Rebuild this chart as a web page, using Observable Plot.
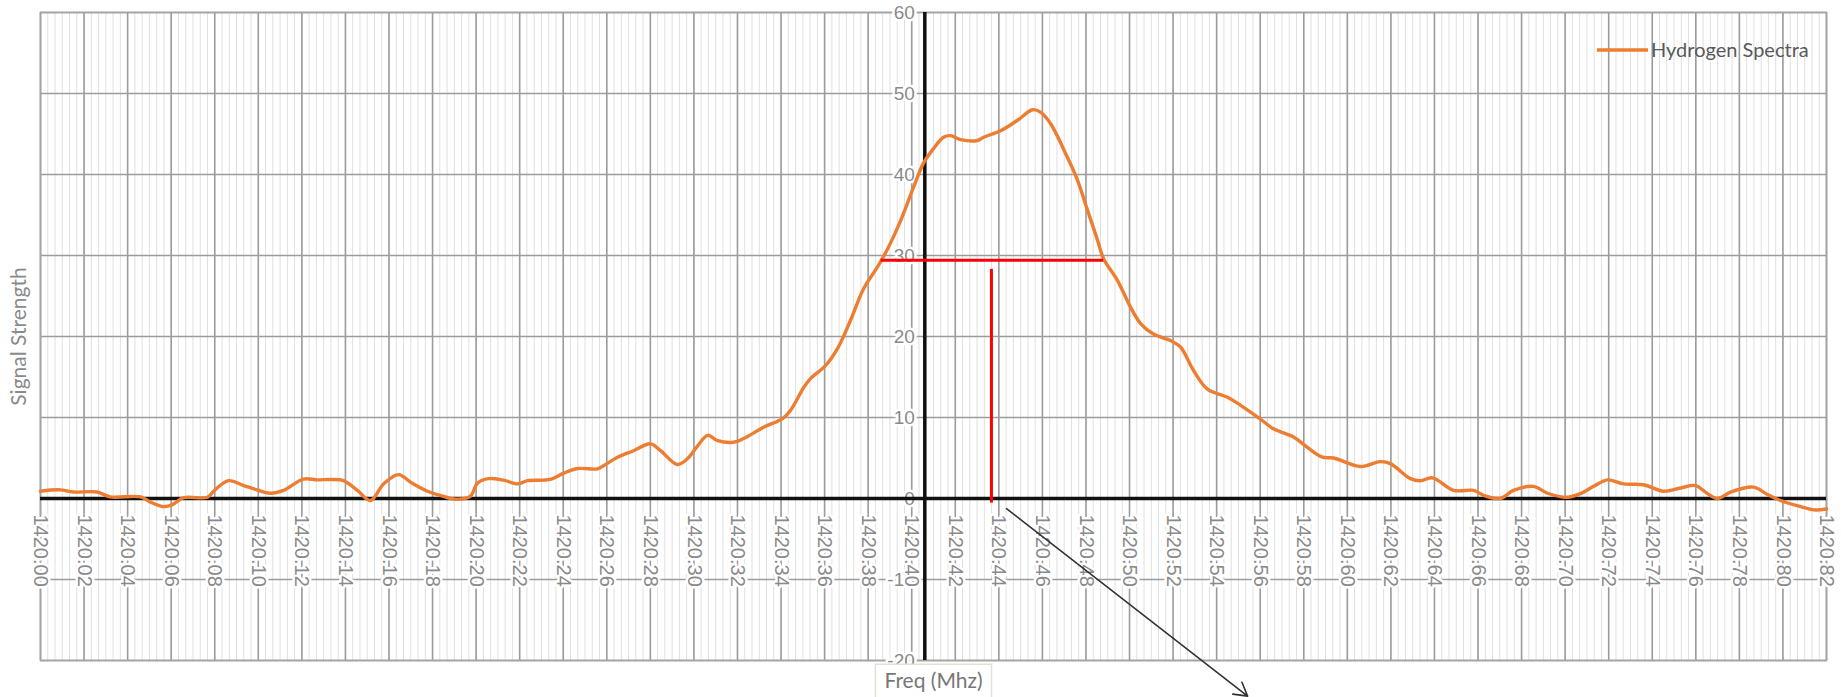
<!DOCTYPE html>
<html><head><meta charset="utf-8">
<script src="https://cdn.jsdelivr.net/npm/d3@7"></script>
<script src="https://cdn.jsdelivr.net/npm/@observablehq/plot@0.6"></script>
<style>html,body{margin:0;padding:0;background:#fff;overflow:hidden}</style>
</head><body><div id="chart"></div>
<script>
// ---- data ----
const freq = [
1420.000,1420.009,1420.015,1420.026,1420.032,1420.046,1420.0505,1420.0566,1420.0606,1420.0657,
1420.0766,1420.0795,1420.0863,1420.0933,1420.0996,1420.1056,1420.1116,1420.1207,1420.1272,1420.1332,
1420.1391,1420.1455,1420.1515,1420.1575,1420.1644,1420.170,1420.1777,1420.185,1420.1915,1420.1974,
1420.2006,1420.2057,1420.2126,1420.219,1420.2236,1420.234,1420.240,1420.2466,1420.2557,1420.2585,
1420.2649,1420.2723,1420.2801,1420.2847,1420.2924,1420.297,1420.3017,1420.3063,1420.3109,1420.3182,
1420.3228,1420.332,1420.3407,1420.3444,1420.3504,1420.3535,1420.3604,1420.3659,1420.3719,1420.3779,
1420.3843,1420.3889,1420.3949,1420.4008,1420.4054,1420.410,1420.4146,1420.4178,1420.4224,1420.4302,
1420.433,1420.4408,1420.4486,1420.4555,1420.4591,1420.4637,1420.4715,1420.4761,1420.4807,1420.4853,
1420.4881,1420.4945,1420.5005,1420.5051,1420.511,1420.5188,1420.5234,1420.5294,1420.5358,1420.545,
1420.551,1420.5601,1420.5661,1420.5753,1420.5817,1420.5886,1420.5937,1420.606,1420.6152,1420.6198,
1420.629,1420.6336,1420.6391,1420.6488,1420.658,1420.6625,1420.6703,1420.6763,1420.6855,1420.6919,
1420.701,1420.707,1420.7131,1420.7195,1420.7268,1420.736,1420.7452,1420.753,1420.7599,1420.7654,
1420.770,1420.776,1420.7865,1420.7929,1420.7989,1420.8081,1420.8141,1420.820
];
const strength = [
0.9,1.07,0.8,0.8,0.2,0.2,-0.45,-1.0,-0.75,0.1,
0.15,0.9,2.2,1.6,1.05,0.65,1.0,2.4,2.3,2.35,
2.2,1.0,-0.25,1.8,2.95,2.0,0.9,0.25,-0.1,0.3,
1.9,2.45,2.26,1.8,2.2,2.35,3.1,3.7,3.65,4.05,
5.1,5.9,6.75,5.9,4.2,4.9,6.5,7.8,7.15,6.95,
7.4,8.8,9.85,10.9,13.7,14.8,16.4,18.5,22.0,25.9,
28.6,30.8,34.3,38.4,41.4,43.2,44.6,44.8,44.3,44.2,
44.6,45.4,46.7,48.0,47.7,46.3,42.1,39.3,35.6,31.9,
29.6,26.9,23.6,21.6,20.3,19.5,18.7,15.8,13.5,12.5,
11.5,9.8,8.6,7.6,6.3,5.1,5.0,3.95,4.55,4.3,
2.45,2.2,2.55,1.0,1.0,0.4,0.0,1.0,1.5,0.65,
0.15,0.6,1.5,2.3,1.8,1.7,0.9,1.3,1.6,0.6,
0.0,0.8,1.4,0.5,-0.25,-1.0,-1.4,-1.3
];
const xTickValues = [
1420.00,1420.02,1420.04,1420.06,1420.08,1420.10,1420.12,1420.14,1420.16,1420.18,
1420.20,1420.22,1420.24,1420.26,1420.28,1420.30,1420.32,1420.34,1420.36,1420.38,
1420.40,1420.42,1420.44,1420.46,1420.48,1420.50,1420.52,1420.54,1420.56,1420.58,
1420.60,1420.62,1420.64,1420.66,1420.68,1420.70,1420.72,1420.74,1420.76,1420.78,
1420.80,1420.82
];
const yTickValues = [-20,-10,0,10,20,30,40,50,60];
const seriesName = "Hydrogen Spectra";
const xTitle = "Freq (Mhz)";
const yTitle = "Signal Strength";
const yAxisCrossing = [1420.406];
const redHorizontal = [{x1: 1420.3857, x2: 1420.4879, y: 29.4}];
const redVertical = [{x: 1420.4366, y1: 28.35, y2: -0.5}];
const pointerArrow = [{x1: 1420.4435, y1: -1.25, x2: 1420.5542, y2: -24.4}];

// ---- build ----
const data = freq.map((f, i) => ({f, s: strength[i]}));
const minorTicks = d3.range(0, 41 * 6 + 1).map(i => 1420 + i * 0.02 / 6);
const fmt = d3.format(".2f");
const orange = "#ED7D31";

const chart = Plot.plot({
  width: 1841, height: 697,
  marginLeft: 40, marginRight: 15, marginTop: 12, marginBottom: 37,
  x: {domain: [1420, 1420.82], axis: null},
  y: {domain: [-20, 60], axis: null},
  style: {background: "white", fontFamily: "'Liberation Sans', Arial, sans-serif"},
  marks: [
    Plot.ruleX(minorTicks, {stroke: "#e0e0e0", strokeWidth: 1}),
    Plot.ruleX(xTickValues, {stroke: "#9c9c9c", strokeWidth: 1.6}),
    Plot.ruleY(yTickValues, {stroke: "#9c9c9c", strokeWidth: 1.6}),
    Plot.frame({stroke: "#a3a3a3", strokeWidth: 1.6}),
    Plot.text(yTickValues, {x: () => yAxisCrossing[0], y: d => d, text: d => String(d), textAnchor: "end", dx: -10,
      fontSize: 19, fill: "#8a8a8a", stroke: "white", strokeWidth: 5, paintOrder: "stroke"}),
    Plot.text(xTickValues, {x: d => d, y: () => 0, text: d => fmt(d), rotate: 90, textAnchor: "start", lineAnchor: "middle", dy: 16,
      fontSize: 20, fill: "#8a8a8a", stroke: "white", strokeWidth: 5, paintOrder: "stroke"}),
    Plot.ruleY([0], {stroke: "#111", strokeWidth: 3.5}),
    Plot.ruleX(yAxisCrossing, {stroke: "#111", strokeWidth: 3.5}),
    Plot.line(data, {x: "f", y: "s", curve: "catmull-rom", stroke: orange, strokeWidth: 3.4}),
    Plot.link(redHorizontal, {x1: "x1", x2: "x2", y1: "y", y2: "y", stroke: "#ff0000", strokeWidth: 3}),
    Plot.link(redVertical, {x1: "x", x2: "x", y1: "y1", y2: "y2", stroke: "#ff0000", strokeWidth: 3}),
    Plot.arrow(pointerArrow, {x1: "x1", y1: "y1", x2: "x2", y2: "y2", stroke: "#333", strokeWidth: 1.6, headLength: 14, bend: 0}),
    Plot.text([yTitle], {frameAnchor: "left", dx: -21, rotate: -90, textAnchor: "middle", lineAnchor: "middle",
      fontSize: 21, fill: "#8a8a8a", fontFamily: "Lato"}),
    Plot.text([xTitle], {frameAnchor: "bottom", dy: 21, textAnchor: "middle", lineAnchor: "middle",
      fontSize: 21, fill: "#777", fontFamily: "Lato"})
  ]
});
document.getElementById("chart").appendChild(chart);

// box around the x title
const svg = d3.select(chart);
svg.selectAll("text").filter(function() { return this.textContent === xTitle; }).each(function() {
  const b = this.getBBox();
  const padX = 9, padY = 3;
  d3.select(this.parentNode).insert("rect", () => this)
    .attr("transform", this.getAttribute("transform"))
    .attr("x", b.x - padX).attr("y", b.y - padY)
    .attr("width", b.width + 2 * padX).attr("height", b.height + 2 * padY + 6)
    .attr("fill", "white").attr("stroke", "#dfe3d6").attr("stroke-width", 1.5);
});

// legend (top right inside the frame)
const legend = svg.append("g");
legend.append("line").attr("x1", 1597).attr("x2", 1648).attr("y1", 50).attr("y2", 50)
  .attr("stroke", orange).attr("stroke-width", 3.4);
legend.append("text").attr("x", 1651).attr("y", 50).attr("dy", "0.35em").attr("text-anchor", "start")
  .attr("font-family", "Lato").attr("font-size", 20).attr("fill", "#595959").text(seriesName);
</script>
</body></html>
